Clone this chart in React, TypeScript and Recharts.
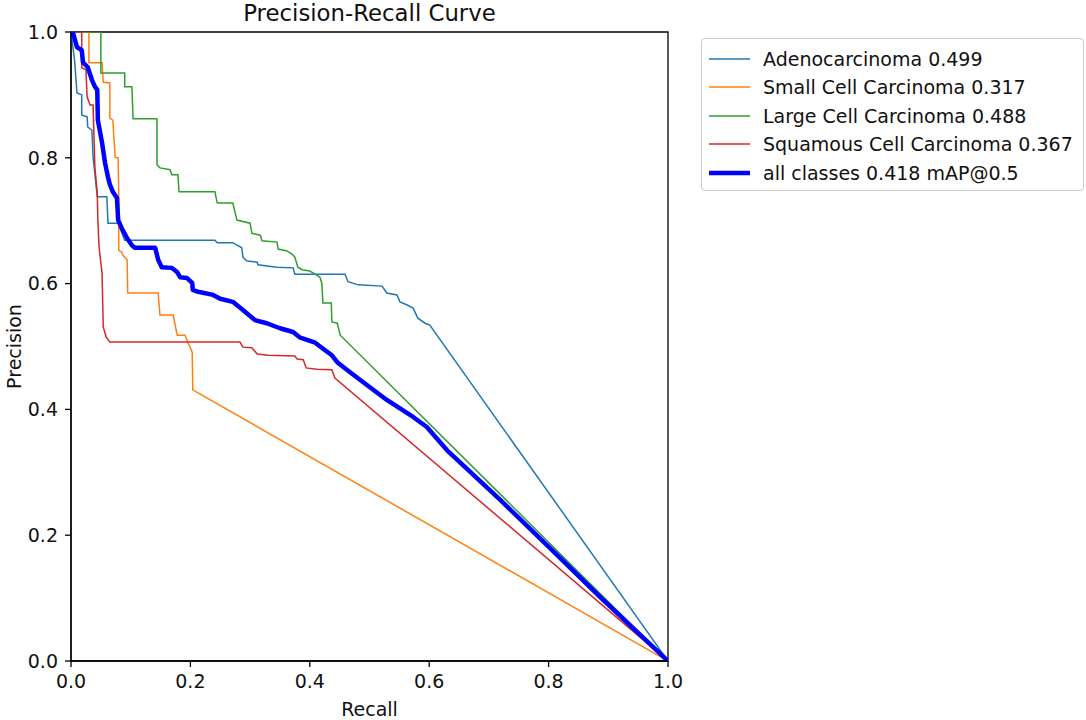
import React from "react";
import { LineChart, Line, XAxis, YAxis, ReferenceArea, Label } from "recharts";

// recall / precision points
const adenocarcinoma = [
  { r: 0, p: 1.0 }, { r: 0.006, p: 0.955 }, { r: 0.01, p: 0.903 }, { r: 0.018, p: 0.9 },
  { r: 0.018, p: 0.868 }, { r: 0.027, p: 0.865 }, { r: 0.028, p: 0.849 }, { r: 0.035, p: 0.844 },
  { r: 0.037, p: 0.801 }, { r: 0.044, p: 0.738 }, { r: 0.06, p: 0.738 }, { r: 0.062, p: 0.696 },
  { r: 0.079, p: 0.696 }, { r: 0.09, p: 0.669 }, { r: 0.241, p: 0.669 }, { r: 0.245, p: 0.665 },
  { r: 0.271, p: 0.665 }, { r: 0.286, p: 0.657 }, { r: 0.288, p: 0.642 }, { r: 0.295, p: 0.636 },
  { r: 0.312, p: 0.634 }, { r: 0.313, p: 0.63 }, { r: 0.345, p: 0.626 }, { r: 0.372, p: 0.625 },
  { r: 0.375, p: 0.615 }, { r: 0.459, p: 0.615 }, { r: 0.464, p: 0.603 }, { r: 0.481, p: 0.598 },
  { r: 0.521, p: 0.596 }, { r: 0.529, p: 0.585 }, { r: 0.546, p: 0.582 }, { r: 0.551, p: 0.571 },
  { r: 0.563, p: 0.566 }, { r: 0.573, p: 0.561 }, { r: 0.581, p: 0.545 }, { r: 0.593, p: 0.537 },
  { r: 0.601, p: 0.534 }, { r: 1.0, p: 0.0 },
];

const smallCell = [
  { r: 0, p: 1.0 }, { r: 0.03, p: 1.0 }, { r: 0.03, p: 0.951 }, { r: 0.052, p: 0.951 },
  { r: 0.054, p: 0.92 }, { r: 0.065, p: 0.919 }, { r: 0.065, p: 0.863 }, { r: 0.07, p: 0.86 },
  { r: 0.074, p: 0.801 }, { r: 0.079, p: 0.8 }, { r: 0.08, p: 0.738 }, { r: 0.08, p: 0.653 },
  { r: 0.085, p: 0.65 }, { r: 0.087, p: 0.645 }, { r: 0.094, p: 0.638 }, { r: 0.095, p: 0.585 },
  { r: 0.146, p: 0.585 }, { r: 0.149, p: 0.55 }, { r: 0.171, p: 0.55 }, { r: 0.178, p: 0.518 },
  { r: 0.191, p: 0.518 }, { r: 0.196, p: 0.506 }, { r: 0.203, p: 0.491 }, { r: 0.204, p: 0.431 },
  { r: 1.0, p: 0.0 },
];

const largeCell = [
  { r: 0, p: 1.0 }, { r: 0.05, p: 1.0 }, { r: 0.05, p: 0.935 }, { r: 0.09, p: 0.935 },
  { r: 0.09, p: 0.913 }, { r: 0.102, p: 0.913 }, { r: 0.104, p: 0.862 }, { r: 0.144, p: 0.862 },
  { r: 0.144, p: 0.789 }, { r: 0.149, p: 0.784 }, { r: 0.166, p: 0.781 }, { r: 0.169, p: 0.773 },
  { r: 0.179, p: 0.773 }, { r: 0.181, p: 0.746 }, { r: 0.241, p: 0.746 }, { r: 0.245, p: 0.728 },
  { r: 0.271, p: 0.728 }, { r: 0.278, p: 0.701 }, { r: 0.3, p: 0.696 }, { r: 0.303, p: 0.68 },
  { r: 0.317, p: 0.677 }, { r: 0.32, p: 0.668 }, { r: 0.345, p: 0.666 }, { r: 0.347, p: 0.655 },
  { r: 0.362, p: 0.652 }, { r: 0.37, p: 0.647 }, { r: 0.375, p: 0.642 }, { r: 0.38, p: 0.626 },
  { r: 0.387, p: 0.622 }, { r: 0.4, p: 0.62 }, { r: 0.409, p: 0.615 }, { r: 0.417, p: 0.61 },
  { r: 0.42, p: 0.601 }, { r: 0.422, p: 0.569 }, { r: 0.436, p: 0.569 }, { r: 0.437, p: 0.539 },
  { r: 0.446, p: 0.537 }, { r: 0.451, p: 0.518 }, { r: 1.0, p: 0.0 },
];

const squamousCell = [
  { r: 0, p: 1.0 }, { r: 0.018, p: 1.0 }, { r: 0.018, p: 0.943 }, { r: 0.025, p: 0.94 },
  { r: 0.027, p: 0.897 }, { r: 0.032, p: 0.884 }, { r: 0.037, p: 0.884 }, { r: 0.04, p: 0.785 },
  { r: 0.044, p: 0.744 }, { r: 0.045, p: 0.701 }, { r: 0.047, p: 0.658 }, { r: 0.052, p: 0.617 },
  { r: 0.054, p: 0.531 }, { r: 0.059, p: 0.515 }, { r: 0.065, p: 0.507 }, { r: 0.283, p: 0.507 },
  { r: 0.288, p: 0.499 }, { r: 0.303, p: 0.498 }, { r: 0.312, p: 0.488 }, { r: 0.33, p: 0.486 },
  { r: 0.375, p: 0.485 }, { r: 0.379, p: 0.48 }, { r: 0.389, p: 0.479 }, { r: 0.394, p: 0.466 },
  { r: 0.412, p: 0.464 }, { r: 0.437, p: 0.463 }, { r: 0.442, p: 0.45 }, { r: 1.0, p: 0.0 },
];

const allClasses = [
  { r: 0.003, p: 1.0 }, { r: 0.01, p: 0.976 }, { r: 0.018, p: 0.971 }, { r: 0.02, p: 0.952 },
  { r: 0.028, p: 0.944 }, { r: 0.035, p: 0.924 }, { r: 0.04, p: 0.913 }, { r: 0.044, p: 0.908 },
  { r: 0.045, p: 0.86 }, { r: 0.052, p: 0.824 }, { r: 0.057, p: 0.792 }, { r: 0.062, p: 0.769 },
  { r: 0.065, p: 0.758 }, { r: 0.07, p: 0.746 }, { r: 0.077, p: 0.736 }, { r: 0.079, p: 0.701 },
  { r: 0.085, p: 0.688 }, { r: 0.094, p: 0.672 }, { r: 0.102, p: 0.661 }, { r: 0.107, p: 0.657 },
  { r: 0.141, p: 0.657 }, { r: 0.146, p: 0.638 }, { r: 0.152, p: 0.626 }, { r: 0.169, p: 0.625 },
  { r: 0.178, p: 0.618 }, { r: 0.183, p: 0.61 }, { r: 0.194, p: 0.609 }, { r: 0.203, p: 0.601 },
  { r: 0.204, p: 0.59 }, { r: 0.213, p: 0.587 }, { r: 0.238, p: 0.582 }, { r: 0.25, p: 0.576 },
  { r: 0.271, p: 0.571 }, { r: 0.288, p: 0.558 }, { r: 0.308, p: 0.542 }, { r: 0.328, p: 0.537 },
  { r: 0.35, p: 0.529 }, { r: 0.372, p: 0.523 }, { r: 0.384, p: 0.514 }, { r: 0.409, p: 0.506 },
  { r: 0.42, p: 0.498 }, { r: 0.437, p: 0.486 }, { r: 0.446, p: 0.475 }, { r: 0.462, p: 0.463 },
  { r: 0.484, p: 0.447 }, { r: 0.529, p: 0.415 }, { r: 0.573, p: 0.388 }, { r: 0.596, p: 0.372 },
  { r: 0.63, p: 0.335 }, { r: 0.719, p: 0.256 }, { r: 0.802, p: 0.18 }, { r: 0.886, p: 0.102 },
  { r: 1.0, p: 0.0 },
];

const ticks = [0, 0.2, 0.4, 0.6, 0.8, 1.0];

const classSeries = [
  { name: "Adenocarcinoma 0.499", data: adenocarcinoma, color: "#1f77b4" },
  { name: "Small Cell Carcinoma 0.317", data: smallCell, color: "#ff7f0e" },
  { name: "Large Cell Carcinoma 0.488", data: largeCell, color: "#2ca02c" },
  { name: "Squamous Cell Carcinoma 0.367", data: squamousCell, color: "#d62728" },
];
const allName = "all classes 0.418 mAP@0.5";

const font = "'DejaVu Sans', sans-serif";
const textColor = "#111";

export default function App() {
  const legendRows = [
    ...classSeries.map((s) => ({ name: s.name, color: s.color, w: 1.6 })),
    { name: allName, color: "#0000ff", w: 4.5 },
  ];

  return (
    <div style={{ position: "absolute", left: 0, top: 0, width: 1086, height: 720, background: "#fff", fontFamily: font }}>
      <div style={{ position: "absolute", left: 0, top: 2, width: 739, textAlign: "center", fontSize: 22.8, lineHeight: "23px", color: textColor }}>
        Precision-Recall Curve
      </div>

      <LineChart width={1086} height={720} margin={{ top: 32, right: 418, bottom: 0, left: 0 }}>
        <XAxis
          type="number"
          dataKey="r"
          domain={[0, 1]}
          ticks={ticks}
          tickFormatter={(v: number) => v.toFixed(1)}
          height={59}
          tickSize={6}
          tickMargin={8}
          stroke="#000"
          strokeWidth={1.3}
          tick={{ fontSize: 19, fill: textColor, fontFamily: font }}
          allowDataOverflow
        >
          <Label
            content={() => (
              <text x={369.5} y={716} textAnchor="middle" fontSize={19} fontFamily={font} fill={textColor}>
                Recall
              </text>
            )}
          />
        </XAxis>
        <YAxis
          type="number"
          dataKey="p"
          domain={[0, 1]}
          ticks={ticks}
          tickFormatter={(v: number) => v.toFixed(1)}
          width={71}
          tickSize={6}
          tickMargin={7}
          stroke="#000"
          strokeWidth={1.3}
          tick={{ fontSize: 19, fill: textColor, fontFamily: font }}
          allowDataOverflow
        >
          <Label
            content={() => (
              <text
                x={21}
                y={346.5}
                textAnchor="middle"
                fontSize={19}
                fontFamily={font}
                fill={textColor}
                transform="rotate(-90, 21, 346.5)"
              >
                Precision
              </text>
            )}
          />
        </YAxis>
        {classSeries.map((s) => (
          <Line
            key={s.name}
            data={s.data}
            dataKey="p"
            type="linear"
            stroke={s.color}
            strokeWidth={1.5}
            dot={false}
            isAnimationActive={false}
          />
        ))}
        <Line
          data={allClasses}
          dataKey="p"
          type="linear"
          stroke="#0000ff"
          strokeWidth={4.5}
          strokeLinejoin="round"
          dot={false}
          isAnimationActive={false}
        />
        <ReferenceArea x1={0} x2={1} y1={0} y2={1} fill="none" stroke="#000" strokeWidth={1.3} ifOverflow="visible" />
      </LineChart>

      <div
        style={{
          position: "absolute",
          left: 701,
          top: 38,
          width: 381,
          height: 151,
          border: "1px solid #cccccc",
          borderRadius: 4,
          background: "rgba(255,255,255,0.8)",
        }}
      >
        <svg width={60} height={151} style={{ position: "absolute", left: 0, top: 0 }}>
          {legendRows.map((row, i) => {
            const y = 20 + Math.round(i * 28.4);
            return <line key={row.name} x1={7} x2={48} y1={y} y2={y} stroke={row.color} strokeWidth={row.w} />;
          })}
        </svg>
        {legendRows.map((row, i) => (
          <div
            key={row.name}
            style={{
              position: "absolute",
              left: 61,
              top: 20 + Math.round(i * 28.4) - 14,
              height: 28,
              lineHeight: "28px",
              fontSize: 19,
              color: textColor,
              whiteSpace: "nowrap",
            }}
          >
            {row.name}
          </div>
        ))}
      </div>
    </div>
  );
}
